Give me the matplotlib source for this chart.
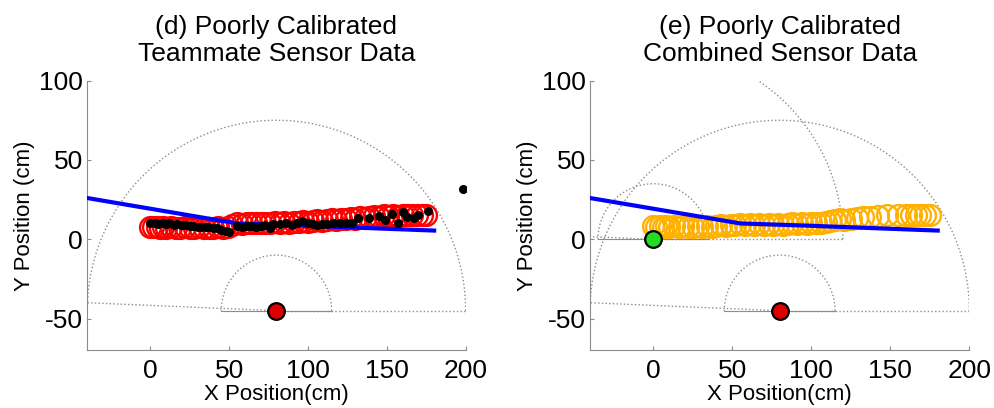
import numpy as np
import matplotlib.pyplot as plt

plt.rcParams["font.family"] = ["Liberation Sans", "DejaVu Sans"]
plt.rcParams["axes.unicode_minus"] = False

# --- dati ---
robot_rosso = (80, -45)
robot_verde = (0, 0)

# linea blu (traiettoria stimata)
blu_x = [-40, 55, 100, 180]
blu_y = [26, 10, 8.5, 5.5]

# cerchi rossi: dati del compagno (poco calibrati)
rossi_x = [0, 2, 4, 6, 8, 10, 13, 16, 19, 22, 25, 28, 31, 34, 37, 40, 43, 46, 49,
           52, 55, 58, 61, 64, 67, 70, 73, 76, 79, 82, 85, 88, 91, 94, 97, 100,
           103, 106, 109, 112, 115, 118, 121, 124, 127, 130, 133, 136, 139, 142,
           145, 148, 151, 154, 157, 160, 163, 166, 169, 172, 175]
rossi_y = [8, 7.5, 8, 7, 7.5, 7, 7.5, 7, 7, 7.5, 7, 7, 7.5, 7, 7, 7, 7.5, 7, 7.5,
           9, 10, 9.5, 10, 10.5, 10, 10.5, 10, 10.5, 11, 10.5, 11, 10.5, 11, 11,
           11.5, 11, 11.5, 12, 11.5, 12, 12.5, 12, 13, 13, 13.5, 13, 14, 13.5, 14,
           14.5, 14, 15, 14.5, 15, 14.5, 15, 15.5, 15, 15.5, 15, 15.5]

# punti neri: dati del sensore
neri_x = [0, 3, 5, 8, 10, 12, 15, 17, 20, 22, 25, 27, 30, 32, 35, 37, 40, 42, 45,
          48, 50, 55, 58, 61, 64, 67, 70, 73, 76, 78, 82, 86, 90, 93, 96, 100,
          103, 106, 109, 112, 116, 120, 124, 128, 132, 139, 145, 149, 153, 157,
          160, 163, 167, 170, 176, 198]
neri_y = [10, 10.5, 9.5, 10, 9.5, 10, 9, 9.5, 9, 9, 8.5, 8.5, 8, 8, 7.5, 7.5, 7,
          7, 6, 5.5, 4.5, 8.5, 8, 8.5, 8.5, 8, 8.5, 9, 7, 9.5, 9.5, 10, 9, 10.5,
          11.5, 10, 9.5, 9, 9.5, 9.5, 10, 10, 10.5, 10.5, 13.5, 13.5, 14.5, 12,
          16, 10.5, 17, 14, 13.5, 15, 18, 32]

# cerchi arancioni: dati combinati
arancio_x = [0, 2, 4, 6, 8, 10, 13, 16, 19, 22, 25, 28, 31, 34, 37, 40, 43, 46,
             49, 52, 55, 58, 61, 64, 67, 70, 73, 76, 79, 82, 85, 88, 91, 94, 97,
             100, 103, 106, 109, 112, 115, 118, 121, 125, 129, 133, 137, 142, 148,
             155, 160, 163, 166, 169, 172, 175]
arancio_y = [8.5, 8, 8.5, 8, 8.5, 8, 8.5, 8, 8.5, 8, 8, 8.5, 8, 8.5, 8, 8.5, 9,
             8.5, 9, 9, 9.5, 9, 9.5, 9, 9.5, 9, 9.5, 9, 9.5, 9, 9.5, 10, 9.5, 10,
             9.5, 10, 10.5, 10, 11, 11.5, 12, 12.5, 12, 13, 13.5, 14, 14, 14.5,
             15, 15, 15, 15.5, 15, 15.5, 15, 15.5]

x_ticks = [0, 50, 100, 150, 200]
y_ticks = [-50, 0, 50, 100]

grigio = "#8c8c8c"


def disegna_campo_visivo(ax, centro):
    cx, cy = centro
    r_est, r_int = 120, 35
    t = np.radians(np.linspace(0, 177.6, 200))
    ax.plot(cx + r_est * np.cos(t), cy + r_est * np.sin(t), ":", color=grigio, lw=1, zorder=1)
    ax.plot([cx, cx + r_est], [cy, cy], ":", color=grigio, lw=1, zorder=1)
    ax.plot([cx, cx + r_est * np.cos(t[-1])], [cy, cy + r_est * np.sin(t[-1])],
            ":", color=grigio, lw=1, zorder=1)
    t2 = np.radians(np.linspace(0, 180, 120))
    ax.plot(cx + r_int * np.cos(t2), cy + r_int * np.sin(t2), ":", color=grigio, lw=1, zorder=1)
    ax.plot([cx - r_int, cx + r_int], [cy, cy], "-", color=grigio, lw=0.8, zorder=1)


def sistema_assi(ax, titolo):
    ax.set_xlim(-40, 200)
    ax.set_ylim(-70, 100)
    ax.set_xticks(x_ticks)
    ax.set_yticks(y_ticks)
    for lato in ["top", "right"]:
        ax.spines[lato].set_visible(False)
    for lato in ["left", "bottom"]:
        ax.spines[lato].set_color(grigio)
        ax.spines[lato].set_linewidth(0.8)
    ax.tick_params(direction="in", length=3, width=0.8, color=grigio,
                   labelsize=19, pad=6)
    ax.tick_params(axis="y", pad=3)
    ax.set_title(titolo, fontsize=19, pad=14, linespacing=1.15)
    ax.set_xlabel("X Position(cm)", fontsize=16, labelpad=1)
    ax.set_ylabel("Y Position (cm)", fontsize=16, labelpad=3)


fig = plt.figure(figsize=(9.95, 4.08), dpi=100)
ax1 = fig.add_axes([0.0877, 0.1412, 0.3803, 0.6613])
ax2 = fig.add_axes([0.593, 0.1412, 0.3812, 0.6613])

# --- (d) dati del compagno ---
disegna_campo_visivo(ax1, robot_rosso)
ax1.plot(rossi_x, rossi_y, "o", mfc="none", mec="#ff0000", ms=15, mew=1.7, zorder=2)
ax1.plot(blu_x, blu_y, "-", color="#0000ff", lw=3, zorder=3)
ax1.plot(neri_x, neri_y, "o", color="black", ms=5.5, zorder=4)
ax1.plot(*robot_rosso, "o", mfc="#dd0000", mec="black", ms=12, mew=1.6, zorder=5)
sistema_assi(ax1, "(d) Poorly Calibrated\nTeammate Sensor Data")

# --- (e) dati combinati ---
disegna_campo_visivo(ax2, robot_rosso)
disegna_campo_visivo(ax2, robot_verde)
ax2.plot(arancio_x, arancio_y, "o", mfc="none", mec="#ffb000", ms=15, mew=1.7, zorder=2)
ax2.plot(blu_x, blu_y, "-", color="#0000ff", lw=3, zorder=3)
ax2.plot(*robot_rosso, "o", mfc="#dd0000", mec="black", ms=12, mew=1.6, zorder=5)
ax2.plot(*robot_verde, "o", mfc="#22dd22", mec="black", ms=12, mew=1.6, zorder=5)
sistema_assi(ax2, "(e) Poorly Calibrated\nCombined Sensor Data")

fig.savefig("out.png", dpi=100)
